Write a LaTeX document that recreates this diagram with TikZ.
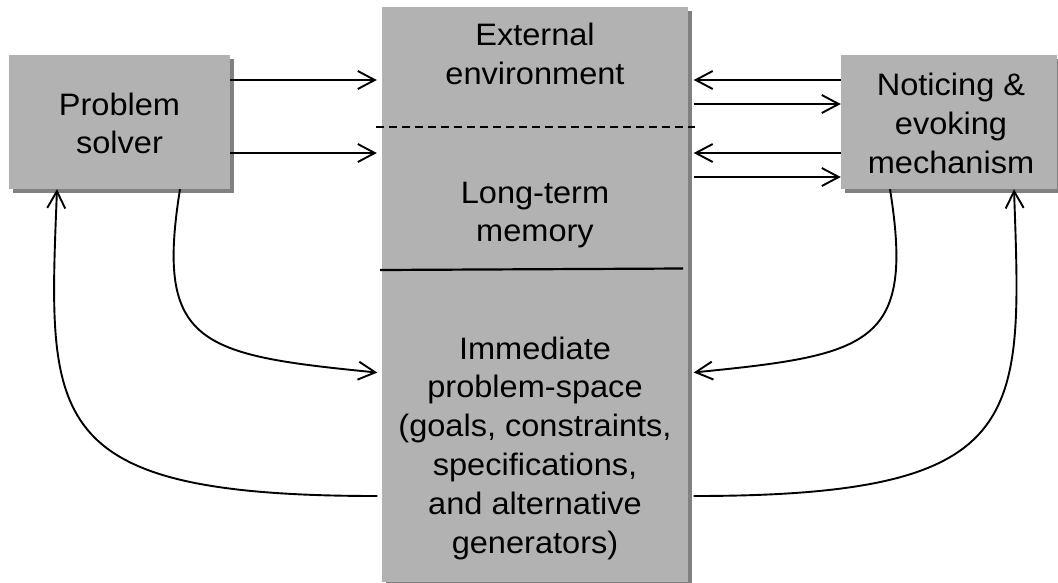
\documentclass[tikz,border=0pt]{standalone}
\usepackage{fontspec}
\setmainfont{Liberation Sans}
\usetikzlibrary{arrows.meta,shadows}

\definecolor{boxgray}{RGB}{178,178,178}
\definecolor{shadowgray}{RGB}{128,128,128}

% centred multi-line label whose reference point is the first baseline
\newcommand{\lbl}[1]{\scalebox{1.05}[1]{\begin{tabular}[t]{@{}c@{}}#1\end{tabular}}}

\tikzset{
  panel/.style={fill=boxgray, draw=none, inner sep=0pt, rectangle,
    drop shadow={shadow xshift=4pt, shadow yshift=-4pt, fill=shadowgray, opacity=1}},
  label/.style={anchor=base, inner sep=0pt, text=black,
    font=\fontsize{31}{38.8}\selectfont},
  conn/.style={line width=1.9pt, draw=black,
    -{Straight Barb[length=17pt,width=18pt,line width=1.9pt]}},
  divider/.style={line width=2.2pt, draw=black},
  sepdashed/.style={line width=2.6pt, draw=black, dash pattern=on 8pt off 5pt}
}

\begin{document}
\begin{tikzpicture}[x=1pt,y=-1pt]
  \useasboundingbox (0,0) rectangle (1058,582);

  % boxes
  \node[panel, minimum width=221pt, minimum height=134pt] (ps)  at (119.5,122) {};
  \node[panel, minimum width=216pt, minimum height=134pt] (nm)  at (949,122) {};
  \node[panel, minimum width=306pt, minimum height=575pt] (env) at (535,294.5) {};

  % separators inside the central column
  \coordinate (dashL) at (376,127);
  \coordinate (dashR) at (695,127);
  \coordinate (solL) at (380,270);
  \coordinate (solR) at (683,268.5);
  \draw[sepdashed] (dashL) -- (dashR);
  \draw[divider] (solL) -- (solR);

  % labels
  \node[label] (tps)  at (119.5,115) {\lbl{Problem\\solver}};
  \node[label] (tnm)  at (951,95.7)  {\lbl{Noticing \&\\evoking\\mechanism}};
  \node[label] (text) at (535,45.7)  {\lbl{External\\environment}};
  \node[label] (tltm) at (535,203)   {\lbl{Long-term\\memory}};
  \node[label] (tips) at (535,359)   {\lbl{Immediate\\problem-space\\(goals, constraints,\\specifications,\\and alternative\\generators)}};

  % problem solver -> environment / memory
  \draw[conn, shorten >=5pt] (ps.east |- 0,80)  -- (env.west |- 0,80);
  \draw[conn, shorten >=5pt] (ps.east |- 0,153) -- (env.west |- 0,153);

  % environment / memory <-> noticing & evoking mechanism
  \draw[conn, shorten >=5.5pt] (nm.west |- 0,80)  -- (env.east |- 0,80);
  \draw[conn, shorten <=5.5pt] (env.east |- 0,104) -- (nm.west |- 0,104);
  \draw[conn, shorten >=5.5pt] (nm.west |- 0,153) -- (env.east |- 0,153);
  \draw[conn, shorten <=5.5pt] (env.east |- 0,177) -- (nm.west |- 0,177);

  % loops through the immediate problem-space
  \draw[conn, shorten >=4.5pt] (180,0 |- ps.south)
     .. controls (155,345) and (200,355) .. (env.west |- 0,373);
  \draw[conn, shorten <=4.5pt] (env.west |- 0,496)
     .. controls (40,496) and (48,420) .. (57,0 |- ps.south);
  \draw[conn, shorten >=5.5pt] (890,0 |- nm.south)
     .. controls (915,345) and (870,355) .. (env.east |- 0,373);
  \draw[conn, shorten <=5.5pt] (env.east |- 0,496)
     .. controls (1030,496) and (1022,420) .. (1014,0 |- nm.south);
\end{tikzpicture}
\end{document}
